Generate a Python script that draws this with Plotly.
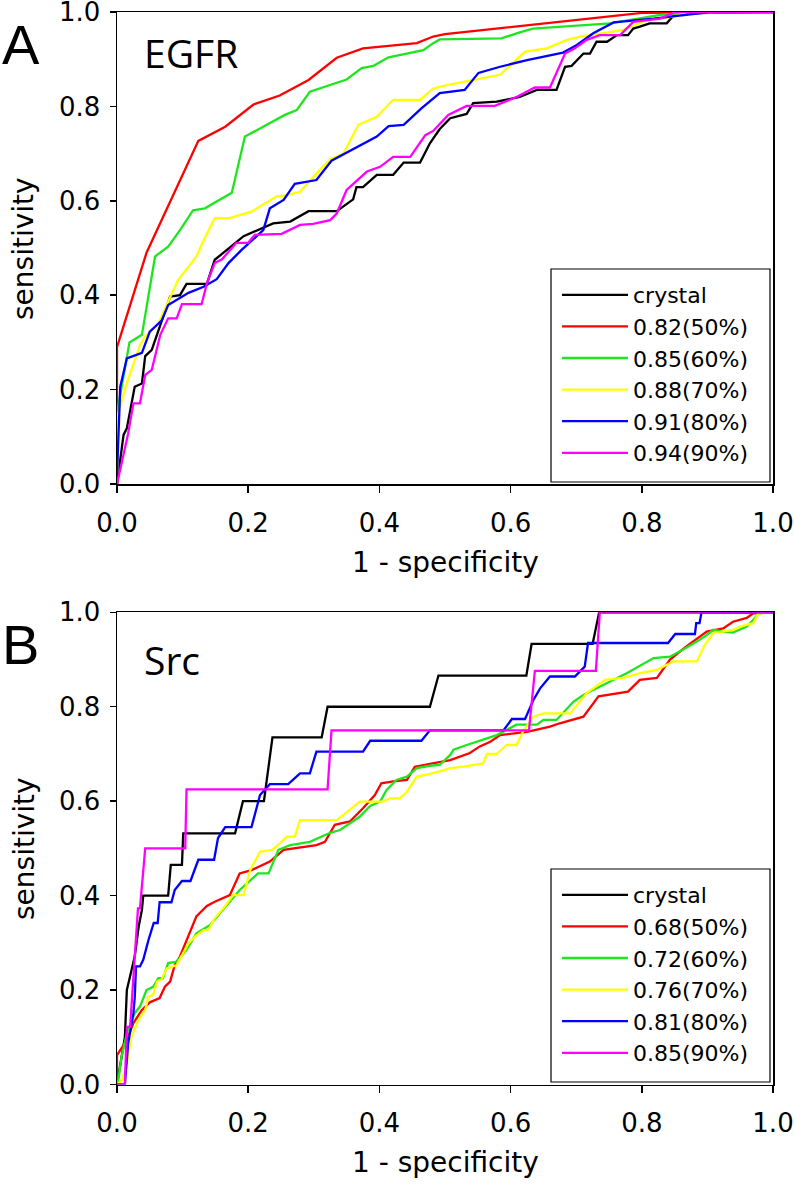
import plotly.graph_objects as go

W, H = 794, 1194

# ---------------- Panel A (EGFR) ----------------
a_names = ["crystal", "0.82(50%)", "0.85(60%)", "0.88(70%)", "0.91(80%)", "0.94(90%)"]

a_crystal_x = [0, 0.01, 0.015, 0.027, 0.038, 0.043, 0.053, 0.068, 0.081, 0.096, 0.106, 0.137, 0.149, 0.193,
               0.238, 0.264, 0.292, 0.335, 0.36, 0.365, 0.375, 0.396, 0.421, 0.437, 0.462, 0.477, 0.492, 0.508,
               0.533, 0.543, 0.579, 0.614, 0.64, 0.67, 0.683, 0.693, 0.711, 0.721, 0.731, 0.747, 0.762, 0.779,
               0.787, 0.797, 0.812, 0.838, 0.851, 1.0]
a_crystal_y = [0, 0.104, 0.118, 0.206, 0.213, 0.271, 0.284, 0.344, 0.397, 0.4, 0.424, 0.424, 0.475, 0.525,
               0.552, 0.556, 0.578, 0.578, 0.603, 0.629, 0.629, 0.655, 0.655, 0.681, 0.681, 0.722, 0.752, 0.775,
               0.784, 0.807, 0.81, 0.82, 0.835, 0.835, 0.884, 0.886, 0.912, 0.912, 0.937, 0.937, 0.951, 0.951,
               0.965, 0.969, 0.976, 0.976, 0.997, 1.0]

a_r50_x = [0, 0, 0.045, 0.124, 0.165, 0.208, 0.248, 0.292, 0.335, 0.375, 0.457, 0.482, 0.5, 0.65, 0.8, 1.0]
a_r50_y = [0, 0.29, 0.49, 0.727, 0.757, 0.804, 0.823, 0.856, 0.903, 0.923, 0.934, 0.948, 0.953, 0.975, 0.998, 1.0]

a_r60_x = [0, 0, 0.019, 0.038, 0.058, 0.078, 0.096, 0.116, 0.134, 0.175, 0.195, 0.233, 0.256, 0.274, 0.294,
           0.35, 0.373, 0.391, 0.414, 0.467, 0.482, 0.492, 0.586, 0.614, 0.634, 0.752, 0.828, 0.919, 1.0]
a_r60_y = [0, 0.15, 0.30, 0.316, 0.482, 0.503, 0.538, 0.58, 0.584, 0.617, 0.736, 0.764, 0.782, 0.792, 0.831,
           0.857, 0.881, 0.886, 0.904, 0.919, 0.934, 0.942, 0.944, 0.957, 0.965, 0.976, 0.994, 1.0, 1.0]

a_r70_x = [0, 0.002, 0.015, 0.035, 0.043, 0.063, 0.078, 0.093, 0.121, 0.13, 0.149, 0.17, 0.205, 0.243, 0.259,
           0.279, 0.309, 0.325, 0.345, 0.368, 0.396, 0.421, 0.462, 0.482, 0.503, 0.541, 0.584, 0.622, 0.655,
           0.686, 0.706, 0.772, 0.807, 0.848, 0.87, 1.0]
a_r70_y = [0, 0.15, 0.213, 0.294, 0.312, 0.34, 0.386, 0.432, 0.482, 0.51, 0.563, 0.563, 0.577, 0.609, 0.612,
           0.619, 0.665, 0.688, 0.7, 0.761, 0.778, 0.814, 0.814, 0.838, 0.845, 0.856, 0.867, 0.916, 0.923,
           0.941, 0.948, 0.962, 0.983, 0.99, 1.0, 1.0]

a_r80_x = [0, 0, 0.005, 0.015, 0.038, 0.05, 0.068, 0.078, 0.109, 0.132, 0.152, 0.17, 0.19, 0.223, 0.233,
           0.254, 0.271, 0.304, 0.327, 0.37, 0.396, 0.414, 0.437, 0.464, 0.492, 0.53, 0.551, 0.584, 0.625,
           0.68, 0.701, 0.726, 0.757, 0.818, 0.868, 0.904, 1.0]
a_r80_y = [0, 0.02, 0.206, 0.266, 0.278, 0.323, 0.346, 0.379, 0.405, 0.418, 0.434, 0.468, 0.496, 0.538, 0.584,
           0.602, 0.636, 0.644, 0.685, 0.716, 0.736, 0.758, 0.761, 0.796, 0.828, 0.835, 0.871, 0.884, 0.898,
           0.914, 0.93, 0.955, 0.978, 0.986, 0.994, 1.0, 1.0]

a_r90_x = [0, 0.017, 0.025, 0.035, 0.043, 0.053, 0.066, 0.078, 0.091, 0.099, 0.129, 0.137, 0.149, 0.16, 0.182,
           0.2, 0.21, 0.251, 0.279, 0.299, 0.325, 0.335, 0.35, 0.381, 0.401, 0.421, 0.447, 0.47, 0.482, 0.505,
           0.533, 0.576, 0.609, 0.637, 0.66, 0.67, 0.683, 0.698, 0.716, 0.736, 0.767, 0.787, 0.828, 0.851, 1.0]
a_r90_y = [0, 0.107, 0.171, 0.171, 0.231, 0.242, 0.316, 0.351, 0.351, 0.381, 0.381, 0.425, 0.468, 0.476, 0.511,
           0.511, 0.528, 0.53, 0.549, 0.551, 0.559, 0.573, 0.623, 0.662, 0.672, 0.693, 0.693, 0.739, 0.748, 0.782,
           0.801, 0.801, 0.82, 0.84, 0.84, 0.87, 0.912, 0.923, 0.941, 0.951, 0.951, 0.979, 0.986, 1.0, 1.0]

# ---------------- Panel B (Src) ----------------
b_names = ["crystal", "0.68(50%)", "0.72(60%)", "0.76(70%)", "0.81(80%)", "0.85(90%)"]

b_crystal_x = [0, 0.012, 0.015, 0.025, 0.027, 0.033, 0.038, 0.04, 0.078, 0.082, 0.099, 0.101, 0.18, 0.192,
               0.224, 0.237, 0.312, 0.321, 0.477, 0.49, 0.624, 0.632, 0.725, 0.735, 1.0]
b_crystal_y = [0, 0.1, 0.2, 0.265, 0.271, 0.334, 0.37, 0.4, 0.4, 0.465, 0.465, 0.532, 0.532, 0.6,
               0.6, 0.735, 0.735, 0.8, 0.8, 0.866, 0.866, 0.933, 0.933, 1.0, 1.0]

b_r50_x = [0, 0, 0.015, 0.025, 0.038, 0.05, 0.065, 0.073, 0.081, 0.088, 0.096, 0.106, 0.121, 0.137, 0.149,
           0.172, 0.187, 0.205, 0.233, 0.254, 0.304, 0.317, 0.332, 0.355, 0.375, 0.393, 0.403, 0.421, 0.442,
           0.454, 0.482, 0.508, 0.538, 0.553, 0.569, 0.584, 0.625, 0.66, 0.675, 0.711, 0.734, 0.746, 0.779,
           0.797, 0.823, 0.843, 0.868, 0.899, 0.924, 0.939, 0.96, 0.97, 1.0]
b_r50_y = [0, 0.062, 0.094, 0.13, 0.158, 0.174, 0.183, 0.207, 0.218, 0.253, 0.271, 0.306, 0.356, 0.378, 0.387,
           0.401, 0.447, 0.454, 0.472, 0.497, 0.507, 0.514, 0.55, 0.557, 0.585, 0.613, 0.638, 0.642, 0.645,
           0.673, 0.68, 0.687, 0.702, 0.716, 0.726, 0.74, 0.747, 0.758, 0.765, 0.779, 0.822, 0.825, 0.832,
           0.857, 0.861, 0.9, 0.928, 0.959, 0.966, 0.98, 0.988, 0.998, 1.0]

b_r60_x = [0, 0.002, 0.007, 0.015, 0.027, 0.035, 0.045, 0.055, 0.063, 0.07, 0.078, 0.091, 0.106, 0.121, 0.142,
           0.167, 0.187, 0.215, 0.231, 0.246, 0.264, 0.294, 0.325, 0.34, 0.37, 0.386, 0.401, 0.411, 0.426,
           0.442, 0.457, 0.477, 0.492, 0.508, 0.513, 0.533, 0.558, 0.579, 0.609, 0.64, 0.65, 0.67, 0.696,
           0.711, 0.731, 0.757, 0.777, 0.818, 0.843, 0.863, 0.884, 0.899, 0.909, 0.924, 0.939, 0.96, 0.97,
           0.978, 1.0]
b_r60_y = [0, 0.01, 0.059, 0.108, 0.151, 0.165, 0.2, 0.207, 0.225, 0.225, 0.257, 0.26, 0.285, 0.32, 0.338,
           0.38, 0.412, 0.447, 0.447, 0.497, 0.507, 0.514, 0.533, 0.539, 0.567, 0.59, 0.599, 0.624, 0.645,
           0.652, 0.67, 0.675, 0.677, 0.698, 0.709, 0.719, 0.73, 0.74, 0.762, 0.762, 0.772, 0.772, 0.811,
           0.825, 0.839, 0.857, 0.871, 0.903, 0.906, 0.921, 0.938, 0.952, 0.963, 0.959, 0.957, 0.97, 0.984,
           0.998, 1.0]

b_r70_x = [0, 0.008, 0.015, 0.022, 0.033, 0.043, 0.048, 0.055, 0.061, 0.068, 0.076, 0.091, 0.109, 0.119,
           0.132, 0.139, 0.149, 0.165, 0.177, 0.193, 0.203, 0.218, 0.236, 0.243, 0.259, 0.271, 0.279, 0.335,
           0.355, 0.37, 0.406, 0.416, 0.431, 0.442, 0.457, 0.472, 0.492, 0.508, 0.528, 0.558, 0.564, 0.579,
           0.594, 0.609, 0.619, 0.635, 0.65, 0.691, 0.716, 0.744, 0.772, 0.797, 0.823, 0.848, 0.884, 0.896,
           0.909, 0.939, 0.95, 0.97, 0.978, 1.0]
b_r70_y = [0, 0.01, 0.045, 0.101, 0.137, 0.158, 0.186, 0.19, 0.218, 0.223, 0.246, 0.253, 0.299, 0.313,
           0.327, 0.327, 0.352, 0.378, 0.401, 0.401, 0.454, 0.493, 0.497, 0.504, 0.525, 0.525, 0.56, 0.56,
           0.582, 0.599, 0.599, 0.606, 0.606, 0.62, 0.652, 0.656, 0.663, 0.67, 0.673, 0.68, 0.7, 0.7,
           0.719, 0.719, 0.748, 0.779, 0.786, 0.786, 0.829, 0.857, 0.861, 0.871, 0.878, 0.896, 0.896, 0.931,
           0.956, 0.963, 0.97, 0.977, 0.998, 1.0]

b_r80_x = [0, 0.012, 0.017, 0.025, 0.027, 0.029, 0.035, 0.04, 0.048, 0.056, 0.062, 0.065, 0.083, 0.088, 0.099,
           0.112, 0.124, 0.148, 0.154, 0.165, 0.205, 0.218, 0.233, 0.261, 0.279, 0.294, 0.304, 0.375, 0.386,
           0.464, 0.477, 0.589, 0.602, 0.622, 0.635, 0.645, 0.66, 0.698, 0.713, 0.718, 0.84, 0.851, 0.881,
           0.883, 0.888, 0.891, 1.0]
b_r80_y = [0, 0, 0.087, 0.151, 0.183, 0.25, 0.25, 0.264, 0.306, 0.342, 0.342, 0.386, 0.386, 0.412, 0.431,
           0.431, 0.476, 0.476, 0.522, 0.545, 0.545, 0.613, 0.636, 0.636, 0.659, 0.659, 0.705, 0.705, 0.728,
           0.728, 0.75, 0.75, 0.774, 0.774, 0.815, 0.839, 0.864, 0.864, 0.885, 0.935, 0.935, 0.954, 0.954,
           0.977, 0.977, 1.0, 1.0]

b_r90_x = [0, 0.012, 0.015, 0.02, 0.032, 0.035, 0.043, 0.104, 0.106, 0.321, 0.327, 0.628, 0.637, 0.73, 0.736, 1.0]
b_r90_y = [0, 0, 0.122, 0.122, 0.373, 0.373, 0.5, 0.5, 0.625, 0.625, 0.75, 0.75, 0.876, 0.876, 1.0, 1.0]

colors = ["#000000", "#ff0000", "#1ee61e", "#ffff00", "#0000ff", "#ff00ff"]

tick_vals = [0, 0.2, 0.4, 0.6, 0.8, 1.0]
tick_text = ["0.0", "0.2", "0.4", "0.6", "0.8", "1.0"]

x_title = "1 - specificity"
y_title = "sensitivity"
panel_labels = ["A", "B"]
panel_names = ["EGFR", "Src"]

a_series = [(a_crystal_x, a_crystal_y), (a_r50_x, a_r50_y), (a_r60_x, a_r60_y),
            (a_r70_x, a_r70_y), (a_r80_x, a_r80_y), (a_r90_x, a_r90_y)]
b_series = [(b_crystal_x, b_crystal_y), (b_r50_x, b_r50_y), (b_r60_x, b_r60_y),
            (b_r70_x, b_r70_y), (b_r80_x, b_r80_y), (b_r90_x, b_r90_y)]

fig = go.Figure()
for (xs, ys), name, c in zip(a_series, a_names, colors):
    fig.add_trace(go.Scatter(x=xs, y=ys, mode="lines", name=name, line=dict(color=c, width=2.3),
                             xaxis="x", yaxis="y", legend="legend"))
for (xs, ys), name, c in zip(b_series, b_names, colors):
    fig.add_trace(go.Scatter(x=xs, y=ys, mode="lines", name=name, line=dict(color=c, width=2.3),
                             xaxis="x2", yaxis="y2", legend="legend2"))


def px(x):
    return x / W


def py(y):
    return 1 - y / H


XDOM = [px(117), px(773)]
A_DOM = [py(484), py(12)]
B_DOM = [py(1084.5), py(612.3)]

FONT = "DejaVu Sans, Verdana, sans-serif"
tick_font = dict(family=FONT, size=26, color="black")
title_font = dict(family=FONT, size=28, color="black")


def xax(domain, anchor):
    return dict(domain=domain, anchor=anchor, range=[0, 1], tickvals=tick_vals, ticktext=tick_text,
                ticks="outside", ticklen=7, tickwidth=1.5, tickcolor="black", showline=True,
                linecolor="black", linewidth=1.5, mirror=True, showgrid=False, zeroline=False,
                tickfont=tick_font, ticklabelstandoff=8, automargin=False, fixedrange=True,
                ticklabeloverflow="allow")


def yax(domain, anchor):
    return dict(domain=domain, anchor=anchor, range=[0, 1], tickvals=tick_vals, ticktext=tick_text,
                ticks="outside", ticklen=6, tickwidth=1.5, tickcolor="black", showline=True,
                linecolor="black", linewidth=1.5, mirror=True, showgrid=False, zeroline=False,
                tickfont=tick_font, ticklabelstandoff=4, automargin=False, fixedrange=True,
                ticklabeloverflow="allow")


legend_common = dict(bgcolor="rgba(0,0,0,0)", borderwidth=0, font=dict(family=FONT, size=22, color="black"),
                     itemwidth=66, xanchor="left", yanchor="top", tracegroupgap=0, itemclick=False)

annotations = []
for i, off in enumerate([0, 600]):
    annotations += [
        dict(text=panel_labels[i], x=px(0), y=py(45 + off), xref="paper", yref="paper", xanchor="left",
             yanchor="middle", showarrow=False,
             font=dict(family="Liberation Sans, Arial, sans-serif", size=56, color="black")),
        dict(text=panel_names[i], x=px(142), y=py((53, 659)[i]), xref="paper", yref="paper",
             xanchor="left", yanchor="middle", showarrow=False,
             font=dict(family="Open Sans, sans-serif", size=39, color="black")),
        dict(text=x_title, x=px(445), y=py(562 + off), xref="paper", yref="paper", xanchor="center",
             yanchor="middle", showarrow=False, font=title_font),
        dict(text=y_title, x=px(24), y=py(249 + off), xref="paper", yref="paper", xanchor="center",
             yanchor="middle", showarrow=False, textangle=-90, font=title_font),
    ]

fig.update_layout(
    width=W, height=H, margin=dict(l=0, r=0, t=0, b=0, autoexpand=False),
    paper_bgcolor="white", plot_bgcolor="white", showlegend=True,
    xaxis=xax(XDOM, "y"), yaxis=yax(A_DOM, "x"),
    xaxis2=xax(XDOM, "y2"), yaxis2=yax(B_DOM, "x2"),
    legend=dict(x=px(557), y=py(274), **legend_common),
    legend2=dict(x=px(557), y=py(874), **legend_common),
    shapes=[
        dict(type="rect", xref="paper", yref="paper", x0=px(551), x1=px(770), y0=py(482), y1=py(269),
             line=dict(color="black", width=1.2)),
        dict(type="rect", xref="paper", yref="paper", x0=px(551), x1=px(770), y0=py(1082), y1=py(869),
             line=dict(color="black", width=1.2)),
    ],
    annotations=annotations,
)

fig.write_html("out.html", config={"displayModeBar": False, "staticPlot": True},
               post_script="document.body.style.margin='0px';document.body.style.overflow='hidden';")
